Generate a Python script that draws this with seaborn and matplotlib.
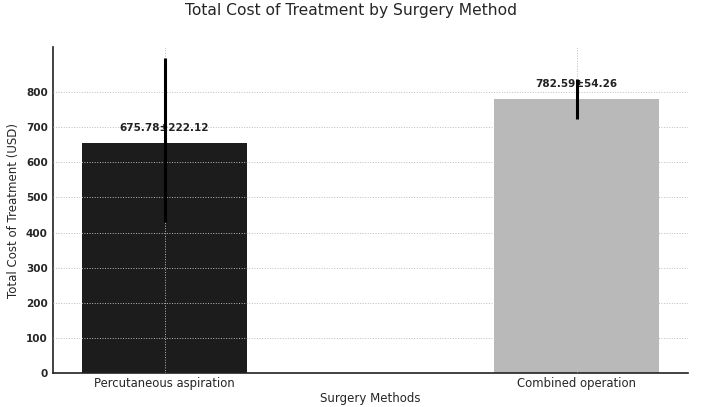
"""
Bar chart: total cost of treatment by surgery method, with error bars
and mean±sd labels above each bar.

Writes:
    out.png
"""

import matplotlib
matplotlib.use("Agg")
import matplotlib.pyplot as plt
import numpy as np
import pandas as pd
import seaborn as sns


METHODS = ["Percutaneous aspiration", "Combined operation"]
BAR_HEIGHT = [655, 779]          # bar tops as drawn
ERR_LOW = [429, 724]             # lower end of error bar
ERR_HIGH = [897, 837]            # upper end of error bar
LABELS = ["675.78±222.12", "782.59±54.26"]
COLORS = ["#1c1c1c", "#b9b9b9"]


def main():
    sns.set_style("white")
    plt.rcParams["font.family"] = ["DejaVu Sans"]

    df = pd.DataFrame({"method": METHODS, "cost": BAR_HEIGHT})

    fig = plt.figure(figsize=(7.02, 4.07), dpi=100)
    ax = fig.add_axes([0.076, 0.083, 0.904, 0.802])

    sns.barplot(
        data=df, x="method", y="cost", hue="method",
        palette=COLORS, width=0.4, ax=ax, legend=False,
        errorbar=None, saturation=1.0, edgecolor="none",
    )

    centers = np.arange(len(METHODS))
    mid = (np.array(ERR_LOW) + np.array(ERR_HIGH)) / 2
    yerr = np.vstack([mid - np.array(ERR_LOW), np.array(ERR_HIGH) - mid])

    # labels sit under the error bar line, as in the original
    for x, h, txt in zip(centers, BAR_HEIGHT, LABELS):
        ax.text(x, h + 28, txt, ha="center", va="bottom",
                fontsize=7.5, fontweight="semibold", color="#222222", zorder=4)

    ax.errorbar(centers, mid, yerr=yerr, fmt="none",
                ecolor="black", elinewidth=2.2, capsize=0, zorder=5)

    ax.set_xlim(-0.27, 1.27)
    ax.set_ylim(0, 928)
    ax.set_yticks(range(0, 900, 100))
    ax.grid(True, linestyle=":", color="#bdbdbd", linewidth=0.7)
    ax.set_axisbelow(False)

    for side in ("top", "right"):
        ax.spines[side].set_visible(False)
    for side in ("left", "bottom"):
        ax.spines[side].set_color("#222222")
        ax.spines[side].set_linewidth(1.2)

    ax.tick_params(axis="y", labelsize=7.5, length=2, pad=2)
    ax.tick_params(axis="x", labelsize=8.4, length=2, pad=1)
    for lbl in ax.get_yticklabels():
        lbl.set_fontweight("bold")

    ax.set_xlabel("Surgery Methods", fontsize=8.5, labelpad=1)
    ax.set_ylabel("Total Cost of Treatment (USD)", fontsize=8.5, labelpad=4)
    fig.suptitle("Total Cost of Treatment by Surgery Method",
                 fontsize=11.2, y=0.992)

    fig.savefig("out.png", dpi=100)
    plt.close(fig)


if __name__ == "__main__":
    main()
